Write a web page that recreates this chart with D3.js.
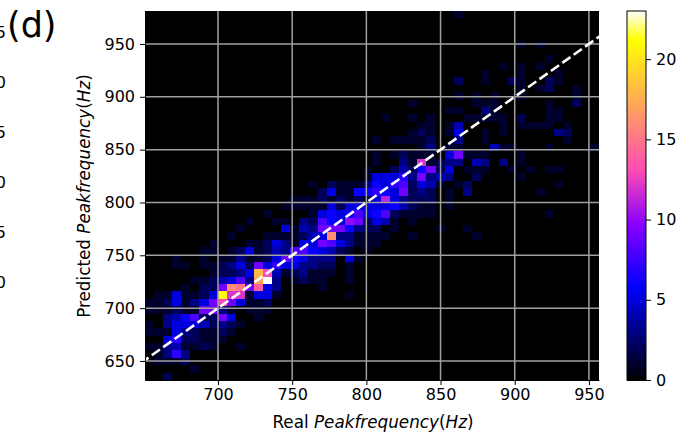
<!DOCTYPE html>
<html>
<head>
<meta charset="utf-8">
<script src="https://cdn.jsdelivr.net/npm/d3@7"></script>
<style>
  html, body { margin: 0; padding: 0; background: #fff; overflow: hidden; }
  text { font-family: "DejaVu Sans", sans-serif; fill: #000; }
</style>
</head>
<body>
<div id="chart"></div>
<script>
// histogram counts, each entry is [row from bottom, first column, counts...]
const binCounts = [
  [0, 2, 2], [1, 5, 1], [2, 1, 1, 1, 1, 2], [3, 1, 1, 3, 7, 3],
  [4, 0, 1, 1, 3, 4, 1, 1, 2, 1, 0, 0, 1],
  [5, 2, 5, 7, 2, 2, 1, 1, 1],
  [6, 0, 1, 1, 1, 5, 3, 2, 1, 1, 2, 1],
  [7, 0, 1, 0, 3, 5, 5, 5, 4, 2, 3, 2, 1],
  [8, 2, 3, 4, 6, 8, 2, 2, 9, 5, 0, 0, 1],
  [9, 0, 1, 1, 1, 2, 1, 1, 9, 9, 3, 1, 0, 1, 1, 1],
  [10, 0, 1, 1, 2, 5, 1, 3, 5, 9, 13, 9, 5, 1, 1, 2],
  [11, 1, 1, 1, 5, 1, 1, 2, 5, 21, 12, 12, 1, 5, 5, 1], [11, 22, 1],
  [12, 4, 1, 0, 2, 2, 9, 16, 15, 9, 14, 5, 3], [12, 19, 1],
  [13, 5, 1, 1, 2, 4, 5, 8, 3, 17, 23, 3, 0, 1, 2, 1, 1, 0, 0, 1],
  [14, 7, 1, 2, 2, 3, 5, 18, 13, 4, 1, 2, 3, 1, 1, 1, 0, 1],
  [15, 3, 1, 1, 0, 1, 1, 2, 3, 5, 2, 9, 5, 7, 5, 5, 3, 3, 2, 2, 0, 1],
  [16, 3, 1, 0, 0, 1, 0, 1, 1, 3, 1, 1, 2, 5, 9, 6, 5, 3, 3, 3, 0, 5, 1],
  [17, 6, 1, 1, 0, 1, 2, 5, 1, 2, 4, 3, 8, 8, 6, 5, 4, 2, 1, 0, 1],
  [18, 7, 1, 0, 0, 0, 1, 1, 2, 5, 3, 1, 5, 5, 9, 8, 5, 3, 1, 1, 1],
  [19, 9, 1, 0, 0, 0, 1, 1, 1, 1, 2, 4, 5, 16, 3, 3, 1, 1, 1, 1], [19, 29, 1], [19, 36, 1],
  [20, 10, 1], [20, 15, 5, 1, 4, 3, 9, 9, 9, 6, 3, 2, 2, 0, 1], [20, 32, 1], [20, 35, 1],
  [21, 11, 1], [21, 14, 1, 1, 0, 3, 2, 8, 6, 5, 10, 9, 2, 5, 4, 1, 0, 1],
  [22, 13, 1], [22, 18, 1, 5, 6, 5, 6, 8, 5, 6, 8, 2, 1, 1, 1, 1], [22, 44, 1],
  [23, 15, 1, 1, 1, 1, 1, 5, 2, 5, 5, 5, 5, 5, 6, 4, 2, 1, 1, 0, 1],
  [24, 16, 1, 1, 1, 2, 1, 2, 1, 2, 1, 5, 11, 5, 3, 2, 2, 2, 0, 1],
  [25, 19, 2, 5, 1, 1, 6, 6, 7, 6, 5, 9, 2, 3, 2, 0, 1, 0, 3], [25, 43, 1],
  [26, 18, 1, 0, 2, 1, 1, 1, 3, 6, 5, 7, 8, 2, 5, 4, 1, 0, 1, 2], [26, 45, 1],
  [27, 24, 1, 5, 5, 5, 7, 3, 9, 3, 4, 3, 0, 0, 2], [27, 41, 1],
  [28, 24, 1, 0, 0, 2, 4, 2, 6, 9, 2, 5, 0, 1, 1, 1], [28, 40, 1], [28, 42, 1], [28, 44, 1, 1],
  [29, 25, 1, 0, 0, 3, 1, 12, 1, 2, 3, 3, 0, 4, 3], [29, 39, 3], [29, 41, 1],
  [30, 25, 1, 0, 1, 2, 1, 1, 1, 0, 5, 9, 1, 1, 1], [30, 41, 1],
  [31, 30, 1, 3, 0, 1, 1], [31, 38, 4, 1, 1], [31, 44, 1], [31, 49, 1],
  [32, 25, 1], [32, 27, 1, 1, 1, 1, 2, 0, 0, 3], [32, 37, 1], [32, 46, 1],
  [33, 29, 1, 2, 1, 0, 1, 5], [33, 37, 1], [33, 39, 1], [33, 45, 3, 2],
  [34, 30, 1, 1, 0, 1, 4], [34, 39, 1], [34, 41, 1, 1, 1, 1], [34, 46, 1],
  [35, 26, 1], [35, 29, 1, 0, 1], [35, 35, 1, 1, 1, 1, 1], [35, 41, 2], [35, 44, 1, 1],
  [36, 33, 1, 1], [36, 37, 3, 1], [36, 44, 1, 1],
  [37, 29, 1], [37, 36, 1, 1, 1], [37, 44, 1], [37, 47, 2],
  [38, 34, 1], [38, 36, 1], [38, 38, 1], [38, 41, 1], [38, 47, 1],
  [39, 41, 1], [39, 43, 1, 2], [39, 47, 1],
  [40, 34, 2], [40, 37, 1], [40, 40, 2, 1], [40, 44, 2, 1],
  [41, 37, 1], [41, 41, 1], [41, 45, 1],
  [42, 39, 1], [42, 41, 1], [42, 43, 1],
  [43, 44, 1], [45, 41, 1], [45, 43, 1], [49, 34, 1]
];
const binTotal = 50;
const xDomain = [650.8, 956.8];
const yDomain = [632, 981.2];
const freqTicks = [650, 700, 750, 800, 850, 900, 950];
const xTickValues = [700, 750, 800, 850, 900, 950];
const colorTicks = [0, 5, 10, 15, 20];
const colorMax = 23;
const identityLine = [640, 970];
// bits of the neighbouring panel cut off by the crop
const cutLabels = ['5', '0', '5', '0', '5', '0'];

const width = 679, height = 433;
const margin = { top: 11, right: 80, bottom: 53, left: 145 };
const plotW = 454, plotH = 369;
const tickFont = '16px';
const labelFont = '16.8px';

const svg = d3.select('#chart').append('svg')
  .attr('width', width)
  .attr('height', height)
  .style('display', 'block');

const x = d3.scaleLinear().domain(xDomain).range([margin.left, margin.left + plotW]);
const y = d3.scaleLinear().domain(yDomain).range([margin.top + plotH, margin.top]);

// matplotlib's gnuplot2 map
function gnuplot2(t) {
  const clamp = d3.scaleLinear().clamp(true);
  const r = clamp(t / 0.32 - 0.78125);
  const g = clamp(2 * t - 0.84);
  let b;
  if (t < 0.25) b = 4 * t;
  else if (t < 0.42) b = 1;
  else if (t < 0.92) b = -2 * t + 1.84;
  else b = t / 0.08 - 11.5;
  return d3.rgb(r * 255, g * 255, clamp(b) * 255).toString();
}
const color = d3.scaleSequential(gnuplot2).domain([0, colorMax]);

svg.append('defs').append('clipPath')
  .attr('id', 'plot-clip')
  .append('rect')
  .attr('x', margin.left)
  .attr('y', margin.top)
  .attr('width', plotW)
  .attr('height', plotH);

// black background is the zero bin
svg.append('rect')
  .attr('x', margin.left)
  .attr('y', margin.top)
  .attr('width', plotW)
  .attr('height', plotH)
  .attr('fill', color(0));

const cells = [];
binCounts.forEach((d) => {
  d.slice(2).forEach((count, i) => {
    if (count > 0) cells.push({ row: d[0], col: d[1] + i, count });
  });
});

const xEdge = d3.scaleLinear().domain([0, binTotal]).range(xDomain);
const yEdge = d3.scaleLinear().domain([0, binTotal]).range(yDomain);

svg.append('g').attr('shape-rendering', 'crispEdges').selectAll('rect')
  .data(cells)
  .enter()
  .append('rect')
  .attr('x', d => x(xEdge(d.col)))
  .attr('y', d => y(yEdge(d.row + 1)))
  .attr('width', d => x(xEdge(d.col + 1)) - x(xEdge(d.col)))
  .attr('height', d => y(yEdge(d.row)) - y(yEdge(d.row + 1)))
  .attr('fill', d => color(d.count));

// grid sits on top of the image
const grid = svg.append('g').attr('stroke', '#a0a0a0').attr('stroke-width', 1.5);
grid.selectAll('.gx').data(xTickValues).enter().append('line')
  .attr('class', 'gx')
  .attr('x1', d => x(d)).attr('x2', d => x(d))
  .attr('y1', margin.top).attr('y2', margin.top + plotH);
grid.selectAll('.gy').data(freqTicks).enter().append('line')
  .attr('class', 'gy')
  .attr('y1', d => y(d)).attr('y2', d => y(d))
  .attr('x1', margin.left).attr('x2', margin.left + plotW);

svg.append('line')
  .attr('clip-path', 'url(#plot-clip)')
  .attr('x1', x(identityLine[0])).attr('y1', y(identityLine[0]))
  .attr('x2', x(identityLine[1])).attr('y2', y(identityLine[1]))
  .attr('stroke', '#fff')
  .attr('stroke-width', 2.6)
  .attr('stroke-dasharray', '10,4');

const xAxis = svg.append('g')
  .attr('transform', `translate(0,${margin.top + plotH})`)
  .call(d3.axisBottom(x).tickValues(xTickValues).tickSize(5).tickSizeOuter(0).tickPadding(4));
const yAxis = svg.append('g')
  .attr('transform', `translate(${margin.left},0)`)
  .call(d3.axisLeft(y).tickValues(freqTicks).tickSize(5).tickSizeOuter(0).tickPadding(5));

[xAxis, yAxis].forEach((axis) => {
  axis.select('.domain').attr('stroke', '#000').attr('stroke-width', 1);
  axis.selectAll('line').attr('stroke', '#000').attr('stroke-width', 1);
  axis.selectAll('text').style('font-size', tickFont).style('font-family', '"DejaVu Sans"');
});

// axis labels, mathtext style italic
function labelParts(sel, first) {
  sel.append('tspan').text(first + ' ');
  sel.append('tspan').attr('font-style', 'italic').text('Peakfrequency');
  sel.append('tspan').text('(');
  sel.append('tspan').attr('font-style', 'italic').text('Hz');
  sel.append('tspan').text(')');
}

svg.append('text')
  .attr('x', 373)
  .attr('y', 428)
  .attr('text-anchor', 'middle')
  .style('font-size', labelFont)
  .call(labelParts, 'Real');

svg.append('text')
  .attr('transform', 'translate(90,196) rotate(-90)')
  .attr('text-anchor', 'middle')
  .style('font-size', labelFont)
  .call(labelParts, 'Predicted');

svg.append('text')
  .attr('x', 7)
  .attr('y', 37)
  .style('font-size', '35px')
  .text('(d)');

const cutY = d3.scaleLinear().domain([0, 5]).range([38, 288]);
svg.selectAll('.cut').data(cutLabels).enter().append('text')
  .attr('class', 'cut')
  .attr('x', 6)
  .attr('y', (d, i) => cutY(i))
  .attr('text-anchor', 'end')
  .style('font-size', tickFont)
  .text(d => d);

// colorbar
const barX = 627, barW = 19;
const barScale = d3.scaleLinear().domain([0, colorMax]).range([margin.top + plotH, margin.top]);
const barSteps = d3.range(0, 256).map(i => i / 256 * colorMax);
svg.append('g').attr('shape-rendering', 'crispEdges').selectAll('rect')
  .data(barSteps)
  .enter()
  .append('rect')
  .attr('x', barX)
  .attr('width', barW)
  .attr('y', d => barScale(d + colorMax / 256))
  .attr('height', d => barScale(d) - barScale(d + colorMax / 256) + 0.5)
  .attr('fill', d => color(d));

svg.append('rect')
  .attr('x', barX)
  .attr('y', margin.top)
  .attr('width', barW)
  .attr('height', plotH)
  .attr('fill', 'none')
  .attr('stroke', '#000')
  .attr('stroke-width', 1);

const barAxis = svg.append('g')
  .attr('transform', `translate(${barX + barW},0)`)
  .call(d3.axisRight(barScale).tickValues(colorTicks).tickSize(5).tickSizeOuter(0).tickPadding(5));
barAxis.select('.domain').remove();
barAxis.selectAll('line').attr('stroke', '#000').attr('stroke-width', 1);
barAxis.selectAll('text').style('font-size', tickFont).style('font-family', '"DejaVu Sans"');
</script>
</body>
</html>
